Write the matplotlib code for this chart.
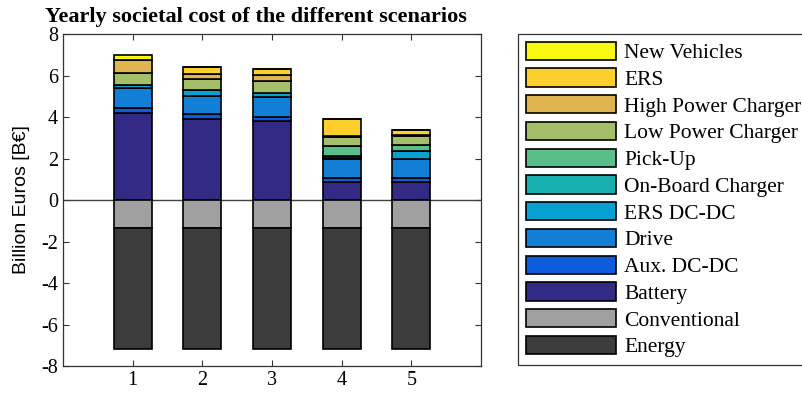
import matplotlib
matplotlib.use("Agg")
import matplotlib.pyplot as plt
import numpy as np
from matplotlib.patches import Rectangle
from matplotlib.legend_handler import HandlerPatch

plt.rcParams['font.family'] = 'Liberation Serif'
plt.rcParams['axes.unicode_minus'] = False

scenarios = [1, 2, 3, 4, 5]

# stacked from the bottom up (positive part)
battery      = [4.21, 3.92, 3.80, 0.87, 0.86]
aux_dcdc     = [0.21, 0.22, 0.18, 0.21, 0.21]
drive        = [0.96, 0.88, 1.00, 0.92, 0.93]
ers_dcdc     = [0.16, 0.26, 0.20, 0.04, 0.38]
onboard      = [0.00, 0.00, 0.00, 0.06, 0.00]
pickup       = [0.00, 0.00, 0.00, 0.51, 0.25]
low_power    = [0.60, 0.56, 0.55, 0.45, 0.47]
high_power   = [0.61, 0.24, 0.30, 0.03, 0.04]
ers          = [0.00, 0.33, 0.27, 0.80, 0.23]
new_vehicles = [0.24, 0.00, 0.00, 0.00, 0.00]

# negative part (savings)
conventional = [-1.37, -1.37, -1.37, -1.37, -1.37]
energy       = [-5.83, -5.83, -5.83, -5.83, -5.83]

pos_series = [
    ("Battery", battery, "#332a86"),
    ("Aux. DC-DC", aux_dcdc, "#0d5cdc"),
    ("Drive", drive, "#137ed6"),
    ("ERS DC-DC", ers_dcdc, "#089fd2"),
    ("On-Board Charger", onboard, "#17afb0"),
    ("Pick-Up", pickup, "#5abd8a"),
    ("Low Power Charger", low_power, "#a5be6a"),
    ("High Power Charger", high_power, "#e0b550"),
    ("ERS", ers, "#fccf2c"),
    ("New Vehicles", new_vehicles, "#f8f910"),
]
neg_series = [
    ("Conventional", conventional, "#a0a0a0"),
    ("Energy", energy, "#3c3c3c"),
]

fig = plt.figure(figsize=(8.03, 3.99), dpi=100)
ax = fig.add_axes([63/803, 33/399, 418/803, 332/399])

x = np.array(scenarios)
w = 0.55
handles = {}

bottom = np.zeros(len(x))
for name, vals, col in pos_series:
    v = np.array(vals)
    b = ax.bar(x, v, w, bottom=bottom, color=col, edgecolor='black', linewidth=1.2, zorder=3)
    handles[name] = b
    bottom = bottom + v

bottom = np.zeros(len(x))
for name, vals, col in neg_series:
    v = np.array(vals)
    b = ax.bar(x, v, w, bottom=bottom, color=col, edgecolor='black', linewidth=1.2, zorder=3)
    handles[name] = b
    bottom = bottom + v

ax.axhline(0, color='#404040', linewidth=1.0, zorder=2)

ax.set_xlim(0, 6)
ax.set_ylim(-8, 8)
ax.set_xticks(scenarios)
ax.set_yticks(np.arange(-8, 9, 2))
ax.tick_params(direction='in', top=True, right=True, length=4, width=0.8,
               color='#333333', labelsize=14.5)
for s in ax.spines.values():
    s.set_color('#333333')
    s.set_linewidth(0.9)

ax.set_ylabel("Billion Euros [B€]", family='Liberation Sans', fontsize=14, labelpad=8)
fig.text(45/803, 1 - 22/399, "Yearly societal cost of the different scenarios",
         fontweight='bold', fontsize=16, ha='left', va='baseline')

# legend, top entry first
order = ["New Vehicles", "ERS", "High Power Charger", "Low Power Charger", "Pick-Up",
         "On-Board Charger", "ERS DC-DC", "Drive", "Aux. DC-DC", "Battery",
         "Conventional", "Energy"]

off = 8

def make_rect(legend, orig_handle, xdescent, ydescent, width, height, fontsize):
    return Rectangle((-xdescent + off, -ydescent), width - off, height)

leg = fig.legend([handles[n] for n in order], order, loc='upper left',
                 bbox_to_anchor=(518/803, 1 - 34/399), borderaxespad=0,
                 fontsize=15.5, handlelength=4.19, handleheight=0.93,
                 labelspacing=0.24, handletextpad=0.38, borderpad=0.36,
                 fancybox=False, framealpha=1,
                 handler_map={Rectangle: HandlerPatch(patch_func=make_rect)})
leg.get_frame().set_edgecolor('#333333')
leg.get_frame().set_linewidth(0.9)

fig.savefig("out.png", dpi=100)
